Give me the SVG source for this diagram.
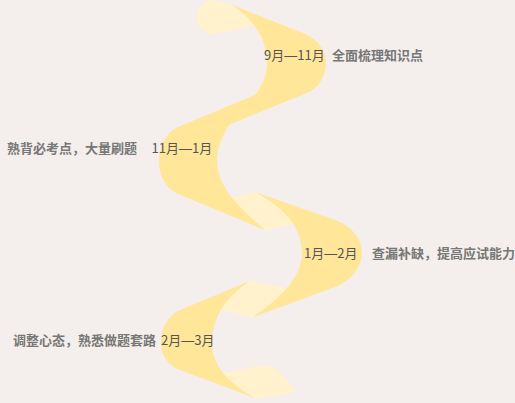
<svg xmlns="http://www.w3.org/2000/svg" width="515" height="403" viewBox="0 0 515 403">
<style>
.front{fill:#FFE699;}
.back{fill:#FFF2CC;}
.date{font-family:"Noto Sans CJK SC","Noto Sans",sans-serif;font-size:13px;fill:#555555;}
.dash{font-family:"Liberation Sans",sans-serif;}
.desc{font-family:"Noto Sans CJK SC","Noto Sans",sans-serif;font-size:13px;font-weight:bold;fill:#777777;}
</style>
<rect x="0" y="0" width="515" height="403" fill="#F4EFEC"/>
<g id="connectors">
<path class="back" d="M214,0 L232,5 L245,12 L262,24 L214,34 A17,17 0 0 1 214,0 Z"/>
<path class="back" d="M226,199 L255,192 L280,204 L300,222 L265,230.5 Z"/>
<path class="back" d="M250,281 L290,289 L275,306 L253.5,317.5 L219,309 L228,294 Z"/>
<path class="back" d="M219,374 L258,366 C268,364 276,368 282,375 L296,392 L256,398.5 L230,385 Z"/>
</g>
<g id="stage-1">
<path class="front" d="M232,5 L303,33 C318,39 326,50 326,63 C326,76 319,88 307,93 L228,125 L233,112 L243,103.5 L255,95 C262,86 267,75 267,63 C267,40 255,20 232,5 Z"/>
<text class="date" x="264" y="59.5">9月<tspan class="dash">—</tspan>11月</text>
<text class="desc" x="332" y="59.5">全面梳理知识点</text>
</g>
<g id="stage-2">
<path class="front" d="M255,95 L178,127 C165,133 159,147 159,161 C159,175 165,188 178,194 L265,230 C245,212 217,190 217,161 C217,138 235,112 255,95 Z"/>
<text class="date" x="151.5" y="153">11月<tspan class="dash">—</tspan>1月</text>
<text class="desc" x="7" y="153">熟背必考点，大量刷题</text>
</g>
<g id="stage-3">
<path class="front" d="M255,192 L335,220 C352,226 362,239 362,253 C362,267 352,280 335,287 L253,317 C275,302 302,280 302,253 C302,228 285,208 255,192 Z"/>
<text class="date" x="304" y="258">1月<tspan class="dash">—</tspan>2月</text>
<text class="desc" x="372" y="258">查漏补缺，提高应试能力</text>
</g>
<g id="stage-4">
<path class="front" d="M250,281 L180,310 C167,316 161,329 161,342 C161,355 167,365 180,370 L255,398 C232,385 212,368 212,343 C212,318 225,297 250,281 Z"/>
<text class="date" x="161" y="344.5">2月<tspan class="dash">—</tspan>3月</text>
<text class="desc" x="13" y="344.5">调整心态，熟悉做题套路</text>
</g>
</svg>
